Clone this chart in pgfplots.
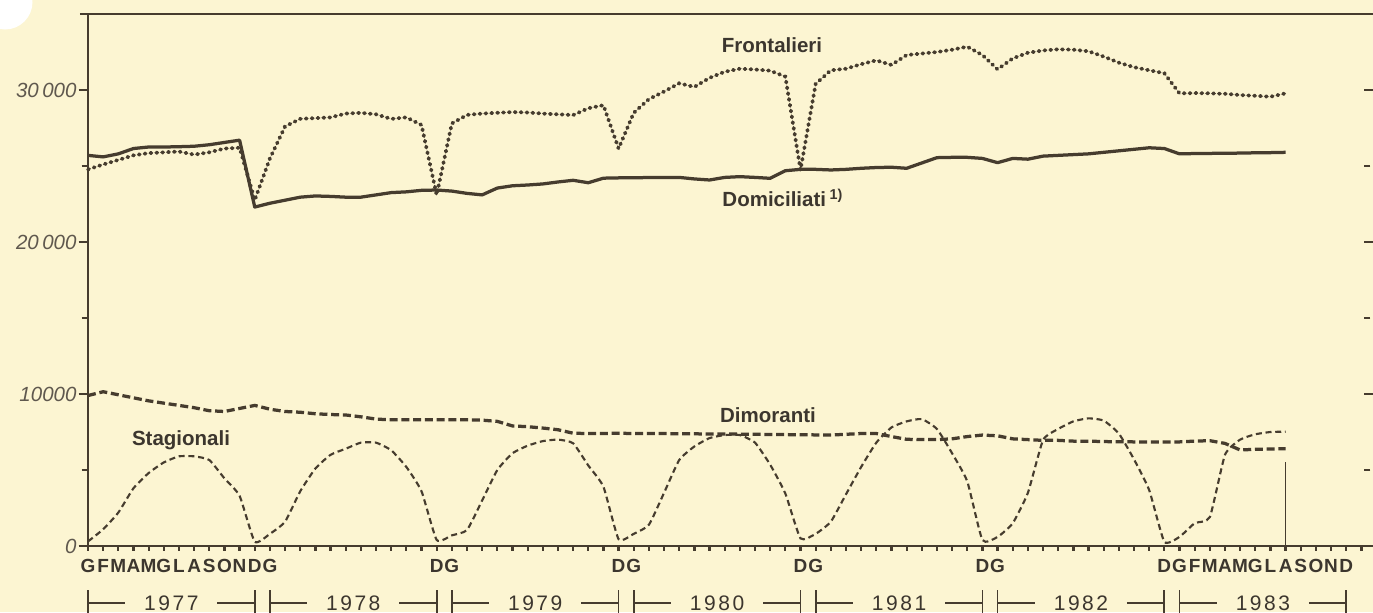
\documentclass[border=0pt]{standalone}
\usepackage{fontspec}
\setmainfont{Liberation Sans}
\usepackage{pgfplots}
\pgfplotsset{compat=1.18}
\definecolor{bgc}{RGB}{252,245,210}
\definecolor{ink}{RGB}{70,60,46}
\definecolor{txt}{RGB}{60,54,46}
\definecolor{tickc}{RGB}{95,88,78}
\begin{document}
\begin{tikzpicture}
\path[use as bounding box] (0,0) rectangle (549.2pt,244.8pt);
\fill[bgc] (0,0) rectangle (549.2pt,244.8pt);
\fill[white] (2pt,244pt) circle (11pt);
% data axis
\begin{axis}[
  at={(35.2pt,26.4pt)}, anchor=south west,
  scale only axis, width=510.4pt, height=212.8pt,
  xmin=0, xmax=84.17, ymin=0, ymax=35000,
  axis line style={draw=none},
  clip=false,
  ytick=\empty,
  xtick={0,...,84},
  xticklabels={G,F,M,A,M,G,L,A,S,O,N,D,G,,,,,,,,,,,D,G,,,,,,,,,,,D,G,,,,,,,,,,,D,G,,,,,,,,,,,D,G,,,,,,,,,,,D,G,F,M,A,M,G,L,A,S,O,N,D,},
  xtick pos=bottom, tick align=outside,
  major tick length=1.9pt,
  tick style={ink, line width=0.9pt},
  xticklabel style={font=\fontsize{7.6}{8}\selectfont\bfseries, text=txt, anchor=north, inner sep=0pt, yshift=-3.2pt},
]
% Domiciliati
\addplot[ink, line width=1.3pt, line join=round] coordinates {
(0,25700)(1,25600)(2,25800)(3,26150)(4,26250)(5,26250)(6,26270)(7,26300)(8,26400)(9,26550)(10,26700)
(11,22300)(12,22550)(13,22750)(14,22950)(15,23030)(16,23000)(17,22950)(18,22950)(19,23100)(20,23250)
(21,23300)(22,23400)(23,23420)(24,23350)(25,23200)(26,23100)(27,23550)(28,23700)(29,23750)(30,23820)
(31,23950)(32,24060)(33,23900)(34,24200)(35,24220)(36,24230)(37,24240)(38,24250)(39,24250)(40,24150)
(41,24080)(42,24250)(43,24300)(44,24250)(45,24190)(46,24690)(47,24780)(48,24780)(49,24740)(50,24780)
(51,24850)(52,24900)(53,24920)(54,24850)(55,25200)(56,25550)(57,25570)(58,25570)(59,25500)(60,25220)
(61,25500)(62,25450)(63,25650)(64,25700)(65,25750)(66,25800)(67,25900)(68,26000)(69,26100)(70,26200)
(71,26150)(72,25800)(73,25820)(74,25830)(75,25840)(76,25850)(77,25870)(78,25880)(79,25900)};
% Frontalieri
\addplot[ink, line width=1.5pt, line cap=round, dash pattern=on 0.45pt off 1.9pt] coordinates {
(0,24780)(1,25100)(2,25400)(3,25700)(4,25850)(5,25900)(6,25950)(7,25750)(8,25900)(9,26150)(10,26200)
(11,22760)(12,25500)(13,27600)(14,28100)(15,28150)(16,28200)(17,28450)(18,28500)(19,28400)(20,28100)
(21,28200)(22,27700)(23,23090)(24,27800)(25,28360)(26,28450)(27,28500)(28,28550)(29,28520)(30,28450)
(31,28400)(32,28350)(33,28800)(34,29000)(35,26150)(36,28500)(37,29400)(38,29900)(39,30440)(40,30200)
(41,30800)(42,31200)(43,31400)(44,31350)(45,31270)(46,30880)(47,24740)(48,30400)(49,31300)(50,31400)
(51,31700)(52,31950)(53,31650)(54,32300)(55,32400)(56,32500)(57,32650)(58,32850)(59,32300)(60,31360)
(61,32080)(62,32450)(63,32600)(64,32680)(65,32650)(66,32550)(67,32200)(68,31800)(69,31500)(70,31300)
(71,31100)(72,29780)(73,29800)(74,29780)(75,29750)(76,29670)(77,29620)(78,29560)(79,29780)};
% Dimoranti
\addplot[ink, line width=1.3pt, dash pattern=on 3.2pt off 1.5pt] coordinates {
(0,9900)(1,10150)(2,9950)(3,9750)(4,9550)(5,9400)(6,9250)(7,9100)(8,8900)(9,8850)(10,9050)
(11,9250)(12,9000)(13,8850)(14,8800)(15,8700)(16,8650)(17,8620)(18,8500)(19,8350)(20,8300)
(21,8300)(22,8300)(23,8300)(24,8300)(25,8300)(26,8280)(27,8200)(28,7900)(29,7850)(30,7760)
(31,7650)(32,7420)(33,7400)(34,7400)(35,7420)(36,7400)(37,7400)(38,7400)(39,7380)(40,7380)
(41,7370)(42,7370)(43,7360)(44,7350)(45,7340)(46,7330)(47,7320)(48,7310)(49,7300)(50,7350)
(51,7400)(52,7400)(53,7200)(54,7020)(55,7000)(56,7000)(57,7050)(58,7200)(59,7300)(60,7250)
(61,7050)(62,7000)(63,6950)(64,6950)(65,6900)(66,6900)(67,6870)(68,6860)(69,6850)(70,6850)
(71,6850)(72,6850)(73,6900)(74,6930)(75,6750)(76,6320)(77,6360)(78,6380)(79,6400)};
% Stagionali
\addplot[ink, line width=0.85pt, dash pattern=on 2.4pt off 1.5pt, smooth, tension=0.3] coordinates {
(0,300)(1,1100)(2,2200)(3,3800)(4,4800)(5,5500)(6,5900)(7,5900)(8,5660)(9,4450)(10,3300)
(11,280)(12,800)(13,1600)(14,3600)(15,5100)(16,6000)(17,6400)(18,6800)(19,6800)(20,6300)
(21,5200)(22,3600)(23,400)(24,700)(25,1050)(26,3000)(27,5000)(28,6100)(29,6600)(30,6900)
(31,7000)(32,6760)(33,5300)(34,3900)(35,450)(36,800)(37,1400)(38,3500)(39,5660)(40,6550)
(41,7100)(42,7300)(43,7300)(44,6800)(45,5350)(46,3450)(47,500)(48,800)(49,1600)(50,3400)
(51,5200)(52,6800)(53,7800)(54,8200)(55,8350)(56,7700)(57,6100)(58,4250)(59,390)(60,600)
(61,1500)(62,3500)(63,6970)(64,7700)(65,8200)(66,8400)(67,8250)(68,7400)(69,5700)(70,3680)
(71,280)(72,600)(73,1500)(74,1900)(75,6000)(76,7000)(77,7350)(78,7500)(79,7520)};
\draw[ink, line width=0.6pt] (axis cs:79,0) -- (axis cs:79,5500);
\end{axis}
% y ticks axis
\begin{axis}[
  at={(35.2pt,26.4pt)}, anchor=south west,
  scale only axis, width=510.4pt, height=212.8pt,
  xmin=0, xmax=84.17, ymin=0, ymax=35000,
  axis line style={draw=none},
  xtick=\empty,
  ytick={0,10000,20000,30000},
  yticklabels={0,10000,20\,000,30\,000},
  minor ytick={5000,15000,25000},
  ytick pos=both, yticklabel pos=left, tick align=outside,
  major tick length=3.8pt, minor tick length=2.6pt,
  tick style={ink, line width=0.8pt},
  yticklabel style={font=\fontsize{8.2}{9}\selectfont\itshape, text=tickc, anchor=east, inner sep=0pt, xshift=-0.6pt},
]
\end{axis}
% frame lines, labels, year spans in pixel coordinates
\begin{scope}[x=0.4pt,y=-0.4pt,yshift=244.8pt]
\draw[ink, line width=0.8pt] (88,14) -- (88,546);
\draw[ink, line width=0.8pt] (80,14) -- (1373,14);
\draw[ink, line width=0.8pt] (88,546) -- (1373,546);
\node[txt, font=\fontsize{8.2}{9}\selectfont\bfseries] at (772,45) {Frontalieri};
\node[txt, font=\fontsize{8.2}{9}\selectfont\bfseries] at (783,198) {Domiciliati\,\textsuperscript{1)}};
\node[txt, font=\fontsize{8.2}{9}\selectfont\bfseries] at (768,415) {Dimoranti};
\node[txt, font=\fontsize{8.2}{9}\selectfont\bfseries] at (181,440) {Stagionali};
\foreach \yr [count=\k from 0] in {1977,1978,1979,1980,1981,1982,1983} {
  \pgfmathsetmacro\L{88+181.92*\k}
  \pgfmathsetmacro\R{\L+166.76}
  \pgfmathsetmacro\M{(\L+\R)/2}
  \pgfmathsetmacro\Ma{\M-46}
  \pgfmathsetmacro\Mb{\M+46}
  \draw[ink, line width=0.7pt] (\L,590) -- (\L,615) (\R,590) -- (\R,615) (\L,603) -- (\Ma,603) (\Mb,603) -- (\R,603);
  \node[txt, font=\fontsize{8.4}{9}\selectfont\addfontfeature{LetterSpace=12}] at (\M,603) {\yr};
}
\end{scope}
\end{tikzpicture}
\end{document}
